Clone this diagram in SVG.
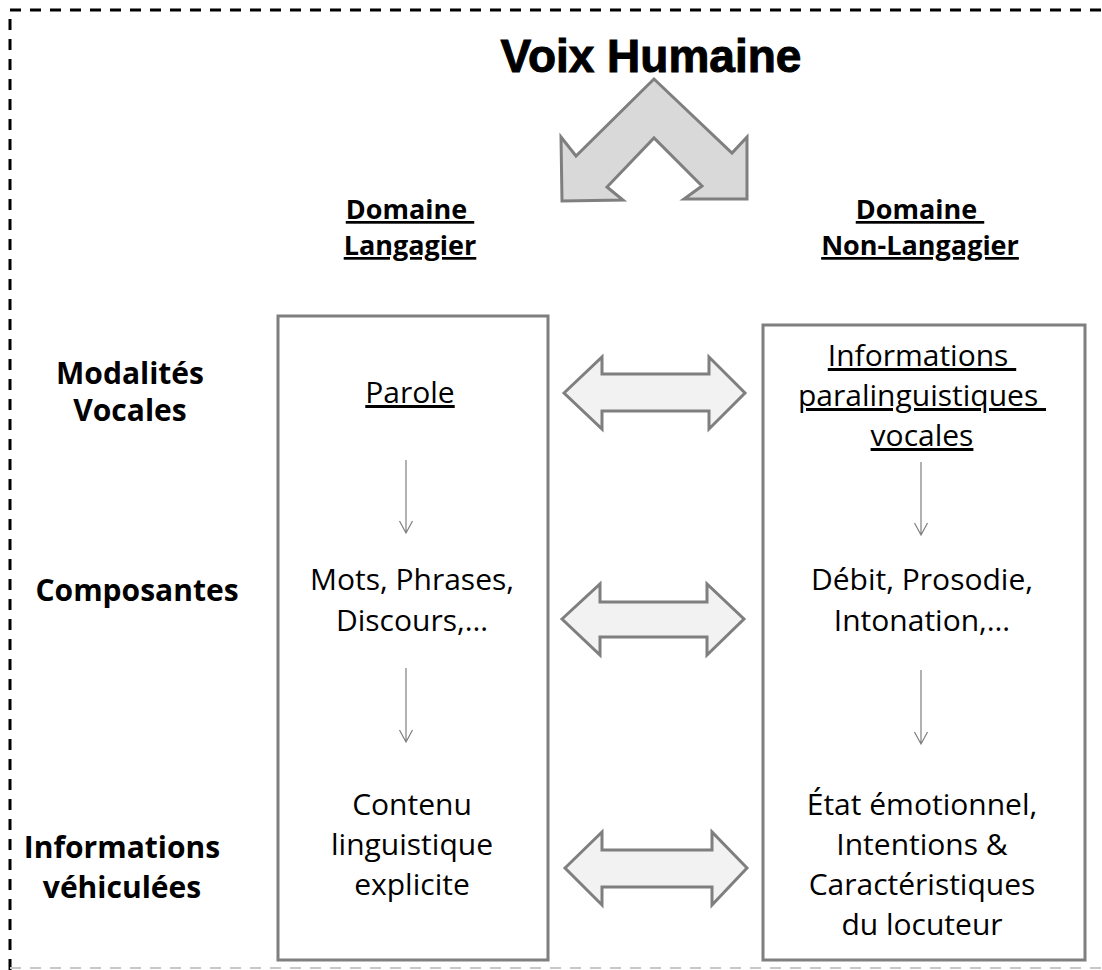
<svg xmlns="http://www.w3.org/2000/svg" width="1102" height="970" viewBox="0 0 1102 970">
<style>
.t{font-family:"Open Sans","Noto Sans",sans-serif;font-size:30px;fill:#000;text-anchor:middle}
.b{font-weight:bold}
.h{font-family:"Open Sans","Noto Sans",sans-serif;font-size:27px;font-weight:bold;text-anchor:middle;text-decoration:underline}
.u{text-decoration:underline}
.box{fill:#fff;stroke:#7f7f7f;stroke-width:3}
.dbl{fill:#f2f2f2;stroke:#7f7f7f;stroke-width:3;stroke-linejoin:miter}
.sm{stroke:#7f7f7f;stroke-width:1.2;fill:none}
</style>
<rect width="1102" height="970" fill="#fff"/>
<g id="frame">
<path d="M10,1110 L10,10 L1102,10" fill="none" stroke="#000" stroke-width="3" stroke-dasharray="11 9"/>
<path d="M10,968 L1102,968" fill="none" stroke="#c8c8c8" stroke-width="2" stroke-dasharray="11 9"/>
</g>
<g id="title">
<text x="651" y="72" font-family="'Liberation Sans',Arial,sans-serif" font-size="46" font-weight="bold" text-anchor="middle" stroke="#000" stroke-width="1">Voix Humaine</text>
</g>
<g id="split-arrow">
<path d="M654,79 L576,156 L561,137 L562,201 L623,200 L607,187 L654,138 L702,186 L684,199 L747,199 L747,137 L732,153 Z" fill="#d9d9d9" stroke="#7f7f7f" stroke-width="3" stroke-linejoin="miter"/>
</g>
<g id="head-left">
<text class="h"><tspan x="410" y="219">Domaine </tspan><tspan x="410" y="255">Langagier</tspan></text>
</g>
<g id="head-right">
<text class="h"><tspan x="920" y="219">Domaine </tspan><tspan x="920" y="255">Non-Langagier</tspan></text>
</g>
<g id="row-labels">
<text class="t b" font-size="25"><tspan x="130" y="384">Modalités</tspan><tspan x="130" y="421">Vocales</tspan></text>
<text class="t b" font-size="26" x="137" y="601">Composantes</text>
<text class="t b" font-size="26"><tspan x="122" y="858">Informations</tspan><tspan x="122" y="898">véhiculées</tspan></text>
</g>
<g id="box-left">
<rect class="box" x="278" y="316" width="270" height="644"/>
<text class="t u" x="410" y="403">Parole</text>
<text class="t"><tspan x="412" y="590">Mots, Phrases,</tspan><tspan x="412" y="631">Discours,…</tspan></text>
<text class="t"><tspan x="412" y="815">Contenu</tspan><tspan x="412" y="855">linguistique</tspan><tspan x="412" y="895">explicite</tspan></text>
</g>
<g id="box-right">
<rect class="box" x="763" y="325" width="322" height="635"/>
<text class="t u"><tspan x="922" y="366">Informations </tspan><tspan x="922" y="406">paralinguistiques </tspan><tspan x="922" y="446">vocales</tspan></text>
<text class="t"><tspan x="922" y="590">Débit, Prosodie,</tspan><tspan x="922" y="631">Intonation,…</tspan></text>
<text class="t"><tspan x="922" y="815">État émotionnel,</tspan><tspan x="922" y="855">Intentions &amp;</tspan><tspan x="922" y="895">Caractéristiques</tspan><tspan x="922" y="935">du locuteur</tspan></text>
</g>
<g id="connectors">
<path class="sm" d="M406,460 V533 M399.5,521 L406,533 L412.5,521"/>
<path class="sm" d="M406,668 V742 M399.5,730 L406,742 L412.5,730"/>
<path class="sm" d="M921,462 V535 M914.5,523 L921,535 L927.5,523"/>
<path class="sm" d="M921,670 V744 M914.5,732 L921,744 L927.5,732"/>
<path class="dbl" d="M564,393 L602,357 L602,374 L709,374 L709,357 L745,393 L709,429 L709,411 L602,411 L602,429 Z"/>
<path class="dbl" d="M562,619 L600,584 L600,602 L707,602 L707,584 L744,619 L707,655 L707,637 L600,637 L600,655 Z"/>
<path class="dbl" d="M565,868 L602,832 L602,850 L712,850 L712,832 L747,868 L712,905 L712,887 L602,887 L602,905 Z"/>
</g>
</svg>
